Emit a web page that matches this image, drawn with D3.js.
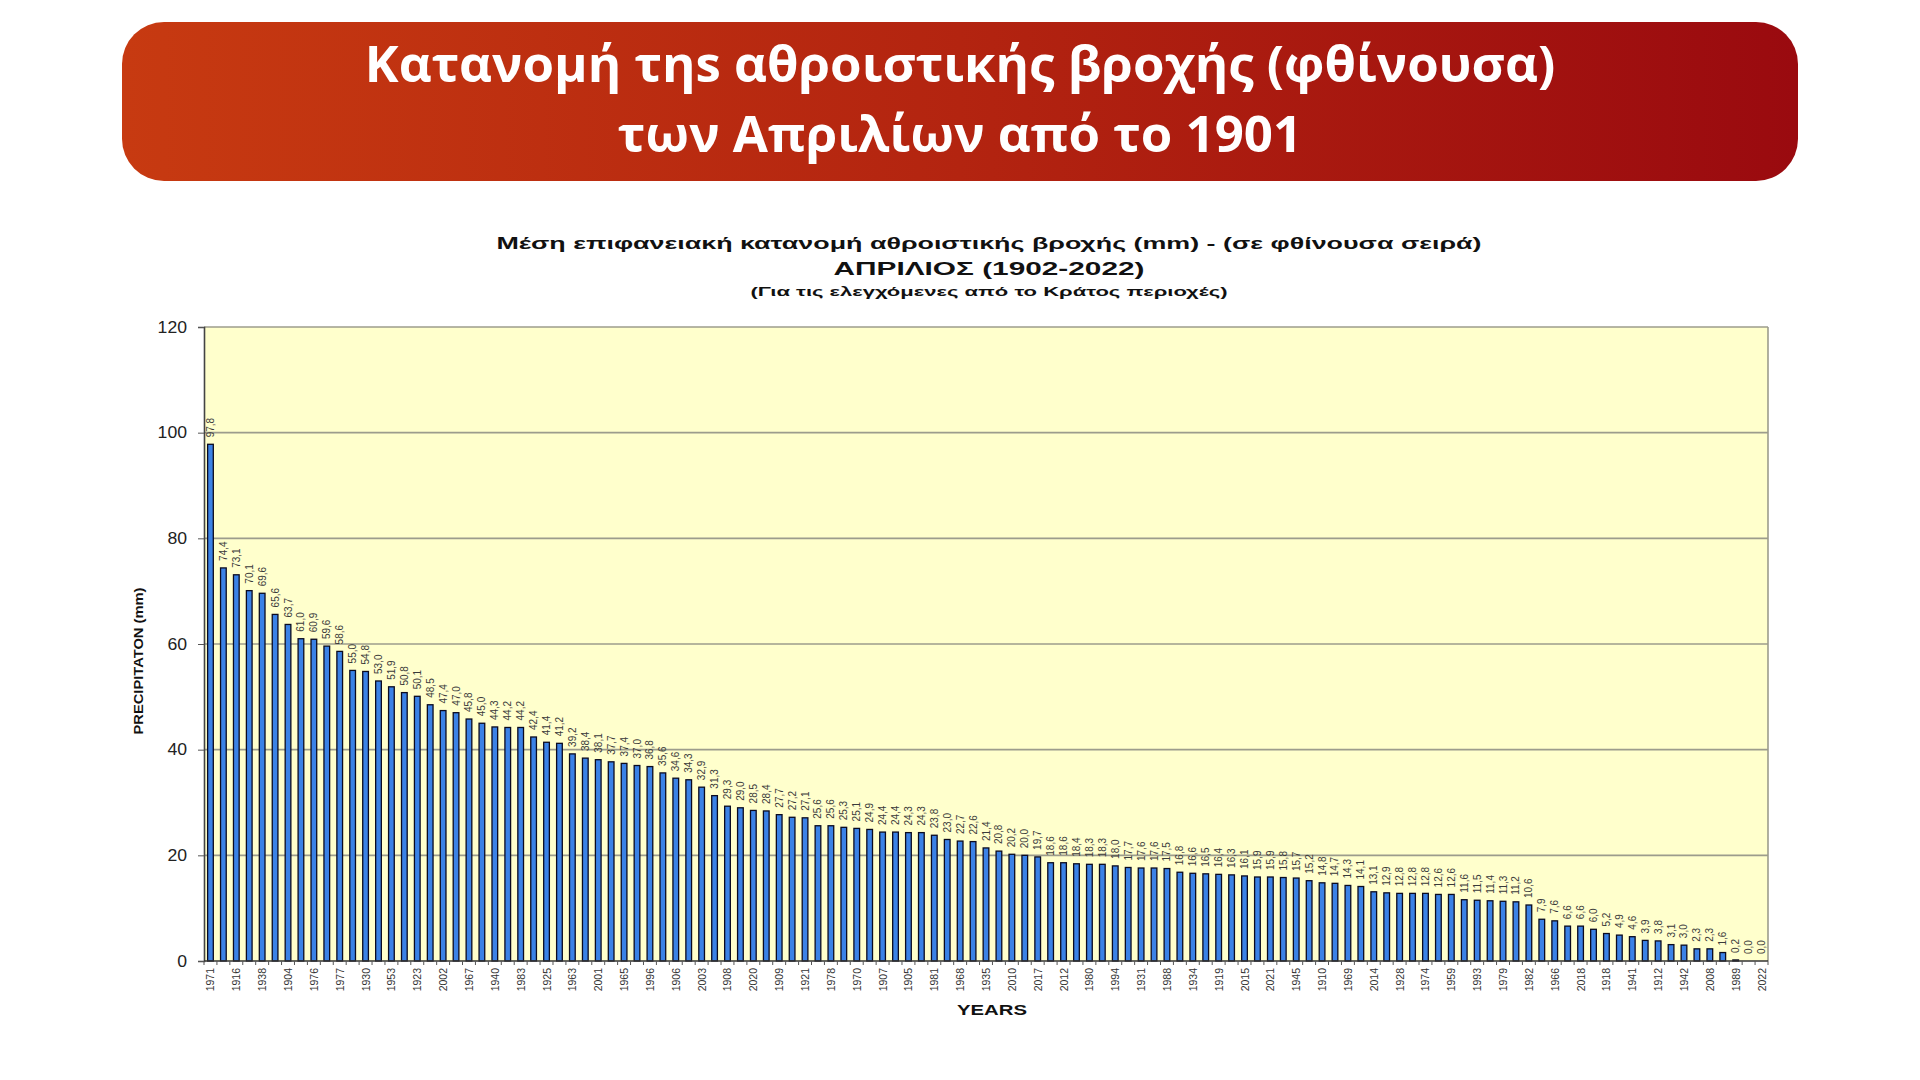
<!DOCTYPE html>
<html>
<head>
<meta charset="utf-8">
<script src="https://cdn.jsdelivr.net/npm/d3@7"></script>
<style>
  html, body { margin: 0; padding: 0; background: #ffffff; }
  svg { display: block; }
</style>
</head>
<body>
<svg id="chart" width="1920" height="1080"></svg>
<script>
// ---------------- DATA ----------------
const headerLines = ["Κατανομή τηs αθροιστικής βροχής (φθίνουσα)", "των Απριλίων από το 1901"];
const titleLines = [
  "Μέση επιφανειακή κατανομή αθροιστικής βροχής (mm) - (σε φθίνουσα σειρά)",
  "ΑΠΡΙΛΙΟΣ  (1902-2022)",
  "(Για τις ελεγχόμενες από το Κράτος περιοχές)"
];
// April precipitation (mm), sorted descending (one value per year 1902-2022)
const values = [
  97.8, 74.4, 73.1, 70.1, 69.6, 65.6, 63.7, 61.0, 60.9, 59.6,
  58.6, 55.0, 54.8, 53.0, 51.9, 50.8, 50.1, 48.5, 47.4, 47.0,
  45.8, 45.0, 44.3, 44.2, 44.2, 42.4, 41.4, 41.2, 39.2, 38.4,
  38.1, 37.7, 37.4, 37.0, 36.8, 35.6, 34.6, 34.3, 32.9, 31.3,
  29.3, 29.0, 28.5, 28.4, 27.7, 27.2, 27.1, 25.6, 25.6, 25.3,
  25.1, 24.9, 24.4, 24.4, 24.3, 24.3, 23.8, 23.0, 22.7, 22.6,
  21.4, 20.8, 20.2, 20.0, 19.7, 18.6, 18.6, 18.4, 18.3, 18.3,
  18.0, 17.7, 17.6, 17.6, 17.5, 16.8, 16.6, 16.5, 16.4, 16.3,
  16.1, 15.9, 15.9, 15.8, 15.7, 15.2, 14.8, 14.7, 14.3, 14.1,
  13.1, 12.9, 12.8, 12.8, 12.8, 12.6, 12.6, 11.6, 11.5, 11.4,
  11.3, 11.2, 10.6, 7.9, 7.6, 6.6, 6.6, 6.0, 5.2, 4.9,
  4.6, 3.9, 3.8, 3.1, 3.0, 2.3, 2.3, 1.6, 0.2, 0.0,
  0.0
];
// Year labels shown under every other bar (bars 1, 3, 5, ...)
const tickLabels = [
  "1971","1916","1938","1904","1976","1977","1930","1953","1923","2002",
  "1967","1940","1983","1925","1963","2001","1965","1996","1906","2003",
  "1908","2020","1909","1921","1978","1970","1907","1905","1981","1968",
  "1935","2010","2017","2012","1980","1994","1931","1988","1934","1919",
  "2015","2021","1945","1910","1969","2014","1928","1974","1959","1993",
  "1979","1982","1966","2018","1918","1941","1912","1942","2008","1989",
  "2022"
];
const yTicks = [0, 20, 40, 60, 80, 100, 120];
const yTitle = "PRECIPITATON (mm)";
const xTitle = "YEARS";

// ---------------- LAYOUT ----------------
const svg = d3.select("#chart");
const plot = { left: 204, right: 1768, top: 327, bottom: 961 };
const FONT = "'Liberation Sans', Arial, Helvetica, sans-serif";

// ---------- Header banner ----------
const defs = svg.append("defs");
const grad = defs.append("linearGradient").attr("id", "hdr").attr("x1", "0%").attr("x2", "100%").attr("y1", "0%").attr("y2", "0%");
grad.append("stop").attr("offset", "0%").attr("stop-color", "#c73a11");
grad.append("stop").attr("offset", "50%").attr("stop-color", "#b32410");
grad.append("stop").attr("offset", "100%").attr("stop-color", "#9a0a0f");

svg.append("rect").attr("x", 122).attr("y", 22).attr("width", 1676).attr("height", 159)
  .attr("rx", 42).attr("ry", 42).attr("fill", "url(#hdr)");

svg.selectAll("text.hdr").data(headerLines).enter().append("text")
  .attr("class", "hdr")
  .attr("x", 960).attr("y", (d, i) => 82 + i * 70)
  .attr("text-anchor", "middle")
  .attr("font-family", "'Open Sans', 'Noto Sans', sans-serif")
  .attr("font-weight", 700).attr("font-size", 51)
  .attr("fill", "#ffffff")
  .text(d => d);

// ---------- Chart titles ----------
const titleSpec = [
  { y: 249, size: 17, len: 985 },
  { y: 275, size: 18, len: 311 },
  { y: 296, size: 13, len: 477 }
];
svg.selectAll("text.ttl").data(titleLines).enter().append("text")
  .attr("class", "ttl")
  .attr("x", 989).attr("y", (d, i) => titleSpec[i].y)
  .attr("text-anchor", "middle")
  .attr("font-family", FONT).attr("font-weight", 700)
  .attr("font-size", (d, i) => titleSpec[i].size)
  .attr("textLength", (d, i) => titleSpec[i].len)
  .attr("lengthAdjust", "spacingAndGlyphs")
  .attr("fill", "#111")
  .text(d => d);

// ---------- Scales ----------
const x = d3.scaleBand().domain(d3.range(values.length))
  .range([plot.left, plot.right]).paddingInner(0.56).paddingOuter(0.28);
const y = d3.scaleLinear().domain([0, 120]).range([plot.bottom, plot.top]);
const step = x.step();

// plot background
svg.append("rect").attr("x", plot.left).attr("y", plot.top)
  .attr("width", plot.right - plot.left).attr("height", plot.bottom - plot.top)
  .attr("fill", "#ffffcc");

// gridlines
svg.append("g").selectAll("line").data(yTicks.filter(t => t > 0)).enter().append("line")
  .attr("x1", plot.left).attr("x2", plot.right)
  .attr("y1", d => y(d)).attr("y2", d => y(d))
  .attr("stroke", "#9c9c8c").attr("stroke-width", 1.6);
// right border
svg.append("line").attr("x1", plot.right).attr("x2", plot.right)
  .attr("y1", plot.top).attr("y2", plot.bottom)
  .attr("stroke", "#9c9c8c").attr("stroke-width", 1.6);

// ---------- Bars ----------
svg.append("g").selectAll("rect").data(values).enter().append("rect")
  .attr("x", (d, i) => x(i))
  .attr("y", d => y(d))
  .attr("width", x.bandwidth())
  .attr("height", d => plot.bottom - y(d))
  .attr("fill", "#3b82e6")
  .attr("stroke", "#0b0b20").attr("stroke-width", 1.3);

// value labels
const fmt = v => v.toFixed(1).replace(".", ",");
svg.append("g").selectAll("text").data(values).enter().append("text")
  .attr("transform", (d, i) => `translate(${x(i) + x.bandwidth() / 2},${y(d) - 7}) rotate(-90)`)
  .attr("text-anchor", "start").attr("dominant-baseline", "central")
  .attr("font-family", FONT).attr("font-size", 10)
  .attr("fill", "#3a3a3a")
  .text(d => fmt(d));

// ---------- Axes ----------
const yAxis = d3.axisLeft(y).tickValues(yTicks).tickSize(6).tickPadding(11).tickFormat(d3.format("d"));
const gy = svg.append("g").attr("transform", `translate(${plot.left},0)`).call(yAxis);
gy.select(".domain").attr("stroke", "#444").attr("stroke-width", 1.6);
gy.selectAll(".tick line").attr("stroke", "#555");
gy.selectAll(".tick text").attr("font-family", FONT).attr("font-size", 16).attr("fill", "#222")
  .attr("textLength", d => String(d).length * 9.8).attr("lengthAdjust", "spacingAndGlyphs");

// x axis: line + ticks at category boundaries
const boundaries = d3.range(values.length + 1).map(i => plot.left + i * step);
const gx = svg.append("g");
gx.append("line").attr("x1", plot.left).attr("x2", plot.right)
  .attr("y1", plot.bottom).attr("y2", plot.bottom)
  .attr("stroke", "#333").attr("stroke-width", 1.4);
gx.selectAll("line.tk").data(boundaries).enter().append("line")
  .attr("class", "tk")
  .attr("x1", d => d).attr("x2", d => d)
  .attr("y1", plot.bottom).attr("y2", plot.bottom + 4)
  .attr("stroke", "#555").attr("stroke-width", 1);
gx.selectAll("text").data(tickLabels).enter().append("text")
  .attr("transform", (d, i) => `translate(${x(i * 2) + x.bandwidth() / 2},${plot.bottom + 7}) rotate(-90)`)
  .attr("text-anchor", "end").attr("dominant-baseline", "central")
  .attr("font-family", FONT).attr("font-size", 10.5)
  .attr("fill", "#333")
  .text(d => d);

// axis titles
svg.append("text")
  .attr("transform", "translate(143,661) rotate(-90)")
  .attr("text-anchor", "middle")
  .attr("font-family", FONT).attr("font-weight", 700).attr("font-size", 13)
  .attr("textLength", 147).attr("lengthAdjust", "spacingAndGlyphs")
  .attr("fill", "#111")
  .text(yTitle);
svg.append("text")
  .attr("x", 992).attr("y", 1015)
  .attr("text-anchor", "middle")
  .attr("font-family", FONT).attr("font-weight", 700).attr("font-size", 15)
  .attr("textLength", 70).attr("lengthAdjust", "spacingAndGlyphs")
  .attr("fill", "#111")
  .text(xTitle);
</script>
</body>
</html>
